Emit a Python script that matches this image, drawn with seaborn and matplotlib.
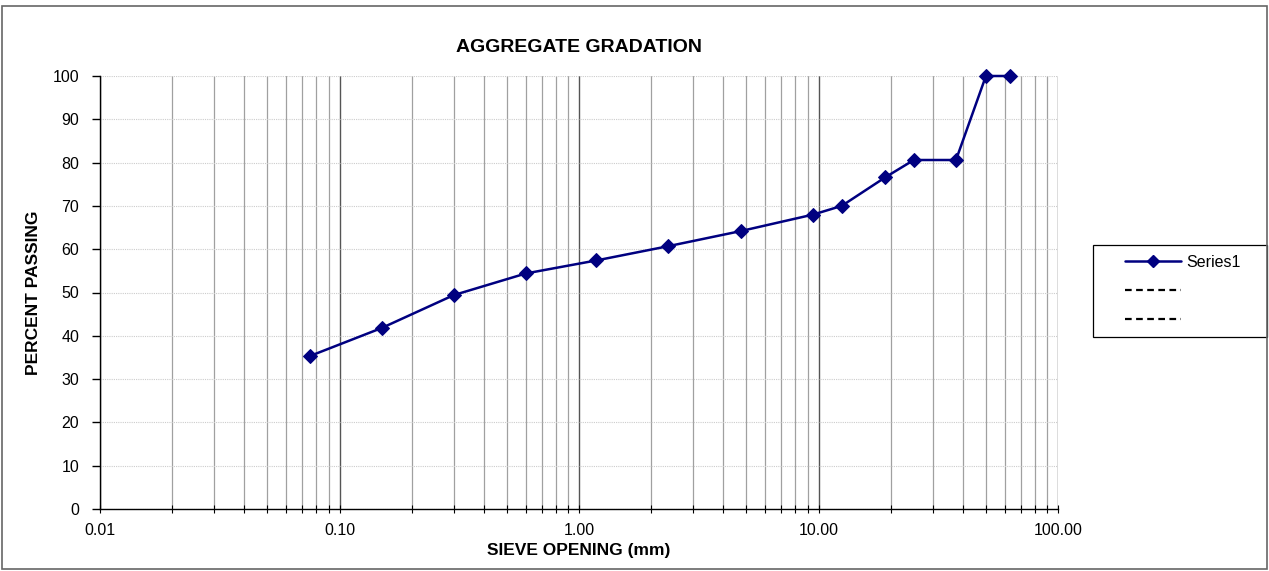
import matplotlib
matplotlib.use("Agg")
import matplotlib.pyplot as plt
import matplotlib.ticker as mticker
from matplotlib.lines import Line2D
from matplotlib.patches import Rectangle
import seaborn as sns
import pandas as pd

sieve_mm = [0.075, 0.15, 0.3, 0.6, 1.18, 2.36, 4.75, 9.5, 12.5, 19, 25, 37.5, 50, 63]
percent_passing = [35.3, 41.8, 49.4, 54.4, 57.4, 60.7, 64.2, 68.0, 70.0, 76.6, 80.6, 80.6, 100, 100]
series_name = "Series1"
x_tick_vals = [0.01, 0.1, 1, 10, 100]
x_tick_labels = ["0.01", "0.10", "1.00", "10.00", "100.00"]
y_ticks = list(range(0, 101, 10))

sns.set_theme(style="white")
plt.rcParams['font.family'] = ['Liberation Sans', 'DejaVu Sans']
plt.rcParams['text.color'] = 'black'
plt.rcParams['axes.labelcolor'] = 'black'
plt.rcParams['xtick.color'] = 'black'
plt.rcParams['ytick.color'] = 'black'

df = pd.DataFrame({"sieve": sieve_mm, "passing": percent_passing})

W, H = 1269, 571
fig = plt.figure(figsize=(W / 100, H / 100), dpi=100)
ax = fig.add_axes([100 / W, 1 - 509 / H, 958 / W, 433 / H])

sns.lineplot(data=df, x="sieve", y="passing", ax=ax, color="#000080", marker="D",
             markersize=7, markeredgecolor="#000080", linewidth=1.8, legend=False,
             clip_on=False, zorder=5)

ax.set_xscale("log")
ax.set_xlim(0.01, 100)
ax.set_ylim(0, 100)
ax.set_xticks(x_tick_vals)
ax.set_xticklabels(x_tick_labels, fontsize=11.5)
ax.xaxis.set_minor_locator(mticker.LogLocator(base=10, subs=range(2, 10)))
ax.xaxis.set_minor_formatter(mticker.NullFormatter())
ax.set_yticks(y_ticks)
ax.set_yticklabels([str(v) for v in y_ticks], fontsize=11.5)

ax.grid(which="major", axis="x", color="#555555", linewidth=1.0)
ax.grid(which="minor", axis="x", color="#a0a0a0", linewidth=0.9)
ax.grid(which="major", axis="y", color="#cccccc", linewidth=0.8, linestyle=(0, (1, 1)))
ax.set_axisbelow(True)

for s in ["top", "right"]:
    ax.spines[s].set_visible(False)
for s in ["left", "bottom"]:
    ax.spines[s].set_color("black")
    ax.spines[s].set_linewidth(1.0)

ax.tick_params(axis="y", which="major", direction="out", length=6, width=1, left=True, pad=9)
ax.tick_params(axis="x", which="both", direction="inout", length=6, width=0.8, bottom=True, pad=7)

ax.set_xlabel("SIEVE OPENING (mm)", fontsize=12.5, fontweight="bold", labelpad=4)
ax.set_ylabel("PERCENT PASSING", fontsize=12.5, fontweight="bold", labelpad=8)
ax.set_title("AGGREGATE GRADATION", fontsize=14, fontweight="bold", pad=17)

# legend
fig.patches.append(Rectangle((1093 / W, 1 - 337 / H), (1267 - 1093) / W, (337 - 245) / H,
                             transform=fig.transFigure, fill=False, edgecolor="black",
                             linewidth=0.9))
handles = [
    Line2D([], [], color="#000080", marker="D", markersize=6, linewidth=1.8),
    Line2D([], [], color="black", linestyle=(0, (3, 2)), linewidth=1.6),
    Line2D([], [], color="black", linestyle=(0, (3, 2)), linewidth=1.6),
]
leg = fig.legend(handles, [series_name, "", ""], loc="upper left",
                 bbox_to_anchor=(1125 / W, 1 - 255 / H), frameon=False,
                 fontsize=11.5, handlelength=3.5, handletextpad=0.35,
                 borderpad=0.0, labelspacing=0.85, borderaxespad=0)

fig.patches.append(Rectangle((2.5 / W, 2.5 / H), (W - 5) / W, (H - 8) / H, transform=fig.transFigure,
                             fill=False, edgecolor="#666666", linewidth=1.2))

fig.savefig("out.png", dpi=100)
